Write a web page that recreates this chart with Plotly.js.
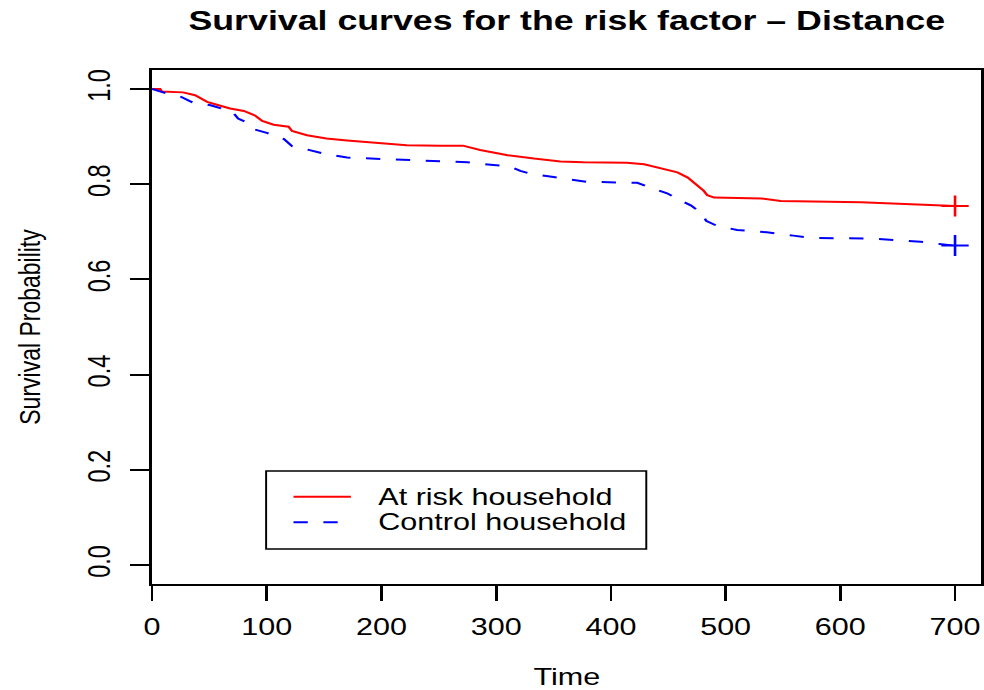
<!DOCTYPE html>
<html>
<head>
<meta charset="utf-8">
<script src="https://cdn.plot.ly/plotly-3.0.1.min.js"></script>
<style>
  html, body { margin: 0; padding: 0; background: #fff; overflow: hidden; }
  #wrap { width: 984px; height: 690px; overflow: hidden; }
  #chart { width: 757px; height: 690px; transform: scaleX(1.2999); transform-origin: 0 0; }
</style>
</head>
<body>
<div id="wrap"><div id="chart"></div></div>
<script>
// Kaplan-Meier survival estimates
const riskTime = [0, 7, 8.5, 27, 37.5, 43, 48, 58, 68, 80, 90, 96, 106, 119, 122, 135, 152, 170, 193, 222, 251, 271, 286, 310, 333, 356, 376, 414, 429, 443, 458, 467, 475, 481, 484, 490, 531, 548, 618, 662, 690, 700];
const riskSurv = [1.0, 1.0, 0.995, 0.993, 0.987, 0.980, 0.973, 0.966, 0.959, 0.954, 0.944, 0.933, 0.925, 0.921, 0.912, 0.903, 0.896, 0.892, 0.887, 0.882, 0.881, 0.881, 0.872, 0.861, 0.854, 0.848, 0.846, 0.845, 0.842, 0.834, 0.825, 0.814, 0.797, 0.786, 0.777, 0.772, 0.770, 0.765, 0.762, 0.758, 0.755, 0.754];

const ctrlTime = [0, 11, 24, 36, 51, 62, 70, 75, 83, 88, 100, 115, 122, 135, 152, 170, 199, 251, 275, 295, 312, 321, 330, 350, 379, 423, 435, 449, 458, 470, 480, 483, 493, 510, 536, 559, 574, 627, 647, 670, 688, 700];
const ctrlSurv = [1.0, 0.992, 0.985, 0.971, 0.966, 0.958, 0.952, 0.938, 0.929, 0.916, 0.908, 0.895, 0.880, 0.873, 0.863, 0.856, 0.853, 0.848, 0.846, 0.841, 0.837, 0.828, 0.822, 0.815, 0.805, 0.803, 0.792, 0.781, 0.769, 0.755, 0.737, 0.723, 0.712, 0.704, 0.699, 0.692, 0.687, 0.686, 0.683, 0.679, 0.674, 0.671];

// censoring marks at end of follow-up
const censorTime = [700];
const riskCensor = [0.754];
const ctrlCensor = [0.671];

const seriesNames = ["At risk household", "Control household"];
const xTicks = [0, 100, 200, 300, 400, 500, 600, 700];
const yTicks = [0.0, 0.2, 0.4, 0.6, 0.8, 1.0];
const yTickText = ["0.0", "0.2", "0.4", "0.6", "0.8", "1.0"];

const FONT = "Liberation Sans, Arial, Helvetica, sans-serif";
const RED = "#ff0000";
const BLUE = "#0000ff";

const traces = [
  { x: riskTime, y: riskSurv, type: "scatter", mode: "lines", name: seriesNames[0],
    line: { color: RED, width: 2 }, hoverinfo: "skip" },
  { x: ctrlTime, y: ctrlSurv, type: "scatter", mode: "lines", name: seriesNames[1],
    line: { color: BLUE, width: 2, dash: "11px,12px" }, hoverinfo: "skip" },
  { x: censorTime, y: riskCensor, type: "scatter", mode: "markers", showlegend: false,
    marker: { symbol: "cross-thin", size: 15, line: { color: RED, width: 2 } }, hoverinfo: "skip" },
  { x: censorTime, y: ctrlCensor, type: "scatter", mode: "markers", showlegend: false,
    marker: { symbol: "cross-thin", size: 15, line: { color: BLUE, width: 2 } }, hoverinfo: "skip" }
];

// legend geometry (paper coordinates)
const lgX0 = 0.1375, lgX1 = 0.5959, lgY0 = 0.0681, lgY1 = 0.2198;
const sampleX0 = 0.1705, sampleX1 = 0.2397, textX = 0.2700;
const rowY = [0.1698, 0.120];

const layout = {
  width: 757, height: 690,
  margin: { l: 116.9, r: 2.4, t: 70, b: 106, pad: 0 },
  paper_bgcolor: "#fff", plot_bgcolor: "#fff",
  showlegend: false,
  font: { family: FONT, size: 23.5, color: "#000" },
  title: { text: "Survival curves for the risk factor – Distance",
    font: { family: FONT, size: 27.5, weight: "bold", color: "#000" },
    x: 0.5, xref: "paper", xanchor: "center",
    y: 1 - 20 / 690, yref: "container", yanchor: "middle" },
  xaxis: {
    range: [0, 723], tickvals: xTicks, ticktext: xTicks.map(String),
    showgrid: false, zeroline: false,
    showline: true, mirror: true, linecolor: "#000", linewidth: 2,
    ticks: "outside", ticklen: 15, tickwidth: 2, tickcolor: "#000",
    ticklabelstandoff: 6,
    tickfont: { family: FONT, size: 23.5, color: "#000" },
    title: { text: "Time", font: { family: FONT, size: 23.5, color: "#000" }, standoff: 36 },
    automargin: false, fixedrange: true
  },
  yaxis: {
    range: [-0.04, 1.04], tickvals: yTicks, ticktext: yTickText,
    tickangle: -90,
    showgrid: false, zeroline: false,
    showline: true, mirror: true, linecolor: "#000", linewidth: 2,
    ticks: "outside", ticklen: 15, tickwidth: 2, tickcolor: "#000",
    ticklabelstandoff: 6,
    tickfont: { family: FONT, size: 23.5, color: "#000" },
    title: { text: "Survival Probability", font: { family: FONT, size: 23, color: "#000" }, standoff: 26 },
    automargin: false, fixedrange: true
  },
  shapes: [
    { type: "rect", xref: "paper", yref: "paper", x0: lgX0, x1: lgX1, y0: lgY0, y1: lgY1,
      line: { color: "#000", width: 1.5 }, fillcolor: "#fff", layer: "above" },
    { type: "line", xref: "paper", yref: "paper", x0: sampleX0, x1: sampleX1, y0: rowY[0], y1: rowY[0],
      line: { color: RED, width: 2 }, layer: "above" },
    { type: "line", xref: "paper", yref: "paper", x0: sampleX0, x1: sampleX1, y0: rowY[1], y1: rowY[1],
      line: { color: BLUE, width: 2, dash: "11px,12px" }, layer: "above" }
  ],
  annotations: seriesNames.map((n, i) => ({
    text: n, xref: "paper", yref: "paper", x: textX, y: rowY[i],
    xanchor: "left", yanchor: "middle", showarrow: false,
    font: { family: FONT, size: 23.5, color: "#000" }
  }))
};

Plotly.newPlot("chart", traces, layout, { staticPlot: true, displayModeBar: false });
</script>
</body>
</html>
